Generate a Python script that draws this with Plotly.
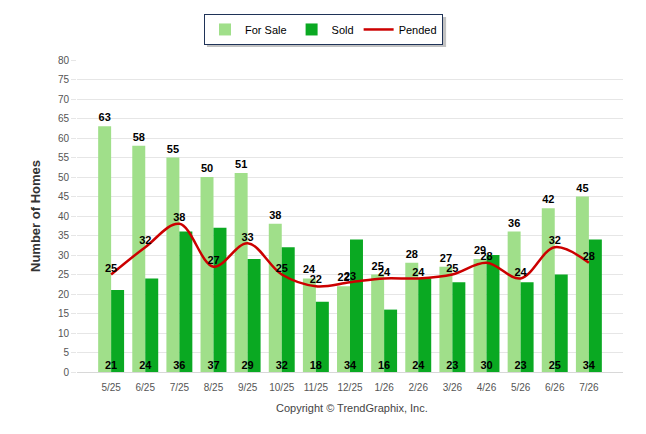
import plotly.graph_objects as go

months = ["5/25", "6/25", "7/25", "8/25", "9/25", "10/25", "11/25", "12/25",
          "1/26", "2/26", "3/26", "4/26", "5/26", "6/26", "7/26"]
for_sale = [63, 58, 55, 50, 51, 38, 24, 22, 25, 28, 27, 29, 36, 42, 45]
sold = [21, 24, 36, 37, 29, 32, 18, 34, 16, 24, 23, 30, 23, 25, 34]
pended = [25, 32, 38, 27, 33, 25, 22, 23, 24, 24, 25, 28, 24, 32, 28]

FONT = "Liberation Sans, Arial, sans-serif"
lbl_font = dict(family=FONT, size=11, color="#000000", weight="bold")

fig = go.Figure()
fig.add_trace(go.Bar(
    x=months, y=for_sale, name="For Sale",
    marker=dict(color="#A0DF8A", line=dict(width=0)),
    text=for_sale, textposition="outside", textfont=lbl_font,
    cliponaxis=False, hoverinfo="skip",
))
fig.add_trace(go.Bar(
    x=months, y=sold, name="Sold",
    marker=dict(color="#0AA922", line=dict(width=0)),
    hoverinfo="skip",
))
fig.add_trace(go.Scatter(
    x=months, y=pended, name="Pended", mode="lines+text",
    line=dict(color="#CC0000", width=2.5, shape="spline", smoothing=1.0),
    text=pended, textposition="top center", textfont=lbl_font,
    cliponaxis=False, hoverinfo="skip",
))
fig.add_trace(go.Scatter(
    x=months, y=[0] * len(months), mode="text",
    text=sold, textposition="top center", textfont=lbl_font,
    showlegend=False, cliponaxis=False, hoverinfo="skip",
))

fig.update_layout(
    width=638, height=426,
    margin=dict(l=69, r=23, t=52, b=62, autoexpand=False),
    paper_bgcolor="white", plot_bgcolor="white",
    barmode="group", bargap=0.24, bargroupgap=0.0,
    font=dict(family=FONT, size=11, color="#333333"),
    showlegend=True,
    legend=dict(
        orientation="h", x=0.4515, xanchor="center",
        y=0.986, yanchor="top", yref="container",
        bordercolor="#1F3358", borderwidth=1, bgcolor="white",
        font=dict(family=FONT, size=11, color="#000000"),
        traceorder="normal",
    ),
    xaxis=dict(
        type="category", range=[-1, 15], showgrid=False,
        showline=True, linecolor="#D8D8D8", linewidth=1,
        ticks="outside", ticklen=6, tickcolor="rgba(0,0,0,0)",
        tickfont=dict(family=FONT, size=10, color="#555555"),
        fixedrange=True, automargin=False,
    ),
    yaxis=dict(
        range=[0, 80], dtick=5, tick0=0, showgrid=True, gridcolor="#E6E6E6",
        gridwidth=1, zeroline=False,
        ticks="outside", ticklen=5, tickcolor="#E6E6E6",
        tickfont=dict(family=FONT, size=10, color="#555555"),
        title=dict(text="Number of Homes", standoff=14,
                   font=dict(family=FONT, size=13, color="#333333", weight="bold")),
        fixedrange=True, automargin=False,
    ),
    shapes=[dict(
        type="rect", xref="paper", yref="paper",
        x0=0.238, x1=0.676, y0=1.042, y1=1.138,
        fillcolor="rgba(120,120,120,0.45)", line=dict(width=0), layer="above",
    )],
    annotations=[dict(
        text="Copyright © TrendGraphix, Inc.", x=0.504, y=-0.115,
        xref="paper", yref="paper", xanchor="center", yanchor="middle",
        showarrow=False, font=dict(family=FONT, size=11, color="#444444"),
    )],
)

fig.write_html("out.html")
